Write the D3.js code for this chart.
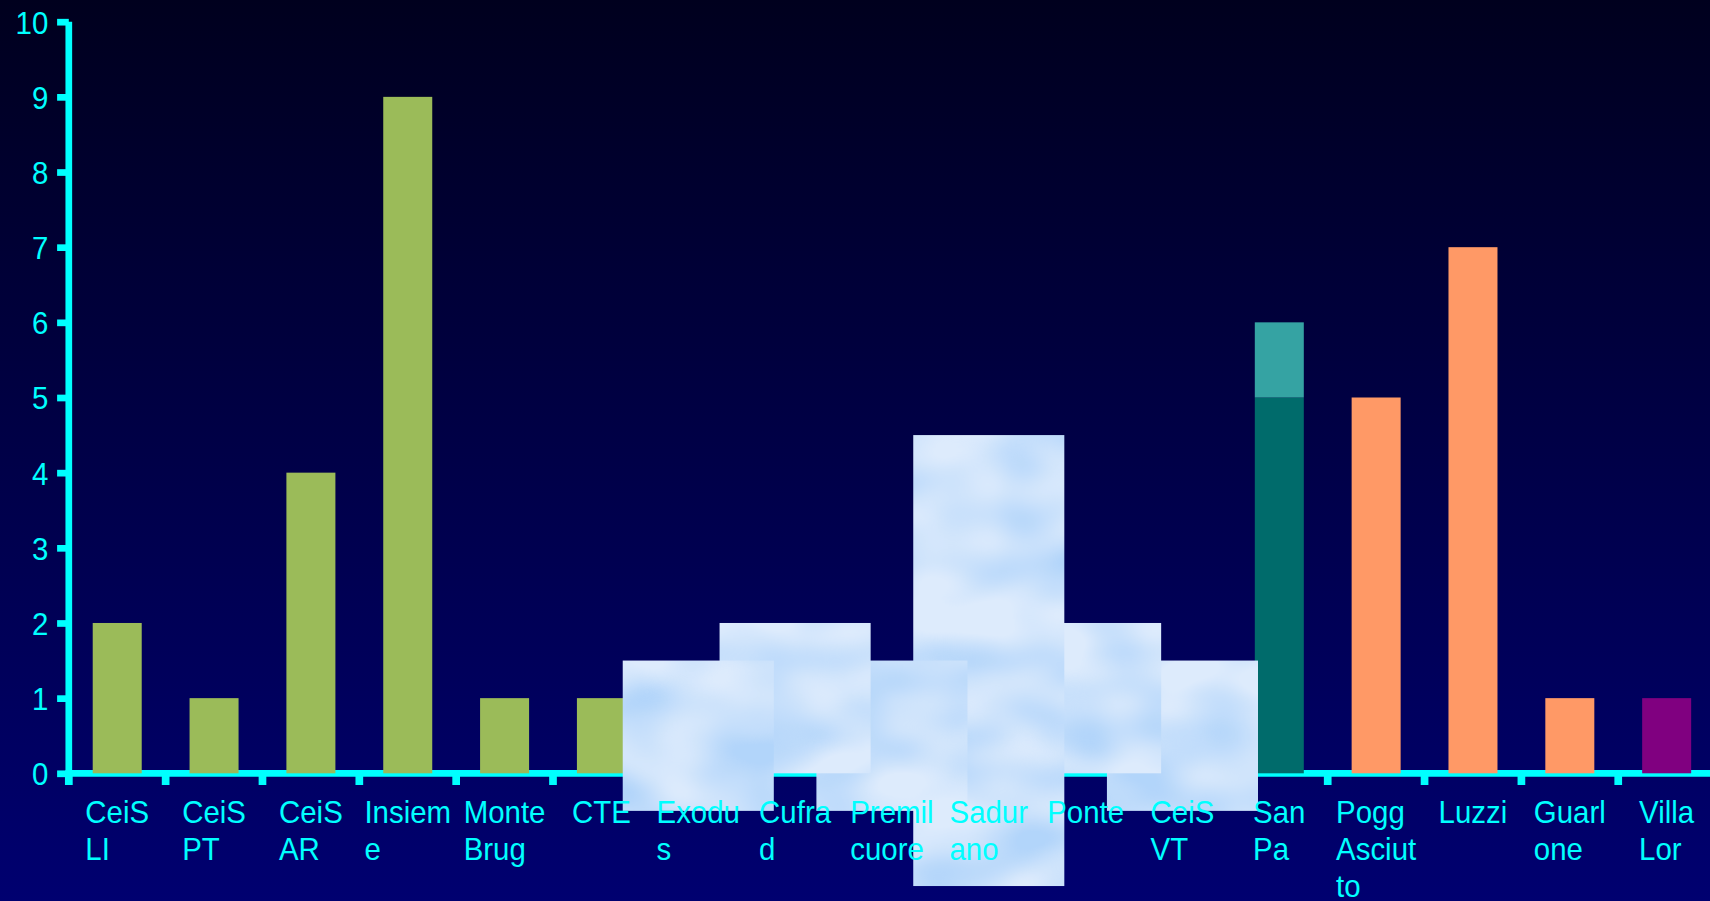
<!DOCTYPE html>
<html>
<head>
<meta charset="utf-8">
<script src="https://cdn.jsdelivr.net/npm/d3@7"></script>
<style>
  html, body { margin: 0; padding: 0; background: #000040; overflow: hidden; }
  svg { display: block; }
  text { font-family: "Liberation Sans", Arial, sans-serif; fill: #00FFFF; }
</style>
</head>
<body>
<svg id="chart" width="1710" height="901"></svg>
<script>
// ---------- DATA ----------
const categories = ["CeiS LI","CeiS PT","CeiS AR","Insieme","Monte Brug","CTE","Exodus","Cufrad",
  "Premilcuore","Saduriano","Ponte","CeiS VT","San Pa","Pogg Asciutto","Luzzi","Guarlone","Villa Lor"];
const categoryLabelLines = [["CeiS","LI"],["CeiS","PT"],["CeiS","AR"],["Insiem","e"],["Monte","Brug"],["CTE"],
  ["Exodu","s"],["Cufra","d"],["Premil","cuore"],["Sadur","ano"],["Ponte"],["CeiS","VT"],["San","Pa"],
  ["Pogg","Asciut","to"],["Luzzi"],["Guarl","one"],["Villa","Lor"]];
const yTickValues = [0,1,2,3,4,5,6,7,8,9,10];

// bar series (value per category, 0 = no bar)
const greenValues     = [2,1,4,9,1,1,0,0,0,0,0,0,0,0,0,0,0];
const tealBaseValues  = [0,0,0,0,0,0,0,0,0,0,0,0,5,0,0,0,0];
const tealTopValues   = [0,0,0,0,0,0,0,0,0,0,0,0,1,0,0,0,0];
const orangeValues    = [0,0,0,0,0,0,0,0,0,0,0,0,0,5,7,1,0];
const purpleValues    = [0,0,0,0,0,0,0,0,0,0,0,0,0,0,0,0,1];

// cloud pictures covering hidden categories (drawn in this order, last on top)
const cloudCategories = ["CeiS VT","Ponte","Saduriano","Premilcuore","Cufrad","Exodus"];
const cloudLow        = [-0.5, 0, -1.5, -0.5, 0, -0.5];
const cloudHigh       = [1.5, 2, 4.5, 1.5, 2, 1.5];

// ---------- LAYOUT / STYLE ----------
const W = 1710, H = 901;
const x0 = 68.8, step = 96.84;
const yZero = 773.3, yTop = 21.7;
const axisW = 6.7, tickLen = 11.7;
const fontSize = 32, sx = 0.92, lineH = 36.7;
const cloudWidthSteps = 1.56;

const svg = d3.select("#chart");
const defs = svg.append("defs");

const bg = defs.append("linearGradient").attr("id","bg").attr("x1",0).attr("y1",0).attr("x2",0).attr("y2",1);
bg.append("stop").attr("offset","0%").attr("stop-color","#00001E");
bg.append("stop").attr("offset","100%").attr("stop-color","#000070");

function cloudFilter(id, seed) {
  const f = defs.append("filter").attr("id", id).attr("filterUnits","userSpaceOnUse")
    .attr("x",0).attr("y",0).attr("width",W).attr("height",H).attr("color-interpolation-filters","sRGB");
  f.append("feTurbulence").attr("type","fractalNoise").attr("baseFrequency","0.010 0.017")
    .attr("numOctaves",2).attr("seed",seed).attr("result","n");
  f.append("feGaussianBlur").attr("in","n").attr("stdDeviation",5).attr("result","nb");
  f.append("feColorMatrix").attr("in","nb").attr("type","matrix")
    .attr("values","0 0 0 0 0.70  0 0 0 0 0.835  0 0 0 0 0.98  2.4 0 0 0 -0.82").attr("result","blot");
  f.append("feFlood").attr("flood-color","#DDEBFC").attr("result","base");
  f.append("feComposite").attr("in","blot").attr("in2","base").attr("operator","over").attr("result","c");
  f.append("feComposite").attr("in","c").attr("in2","SourceGraphic").attr("operator","in");
}
cloudCategories.forEach((c,i) => cloudFilter("cloud" + i, 11 + i*17));

svg.append("rect").attr("width",W).attr("height",H).attr("fill","url(#bg)");

// scales
const xOuter = d3.scaleBand().domain(categories).range([x0, x0 + step*categories.length]).padding(0);
const x = d3.scaleBand().domain(categories).range([x0, x0 + step*categories.length])
  .paddingInner(0.494).paddingOuter(0.247);
const y = d3.scaleLinear().domain([0,10]).range([yZero, yTop]);

// x axis line + ticks at category boundaries
const axG = svg.append("g");
axG.append("line").attr("x1", x0 - axisW/2).attr("x2", W).attr("y1", yZero).attr("y2", yZero)
  .attr("stroke","#00FFFF").attr("stroke-width",axisW);
const boundaries = categories.map(c => xOuter(c)).concat([xOuter.range()[1]]);
axG.selectAll("line.xt").data(boundaries).join("line").attr("class","xt")
  .attr("x1", d => d).attr("x2", d => d).attr("y1", yZero).attr("y2", yZero + tickLen)
  .attr("stroke","#00FFFF").attr("stroke-width", axisW + 1);

// y axis
const yAxis = d3.axisLeft(y).tickValues(yTickValues).tickSize(tickLen).tickSizeOuter(0).tickPadding(0);
const yG = svg.append("g").attr("transform", `translate(${x0},0)`).call(yAxis);
yG.attr("color","#00FFFF");
yG.select(".domain").remove();
yG.append("line").attr("x1",0).attr("x2",0).attr("y1", yTop).attr("y2", yZero + tickLen)
  .attr("stroke","#00FFFF").attr("stroke-width",axisW);
yG.selectAll(".tick line").attr("stroke-width", axisW);
yG.selectAll(".tick text")
  .attr("font-size", fontSize).attr("fill","#00FFFF").attr("font-family","Liberation Sans, Arial, sans-serif")
  .attr("dy", null).attr("x", null).attr("text-anchor","end")
  .attr("transform", `translate(-20.5,${0.716*fontSize/2}) scale(${sx},1)`);

// bars
function drawBars(vals, base, color) {
  svg.append("g").selectAll("rect").data(categories.map((c,i)=>({c, v: vals[i], b: base ? base[i] : 0})).filter(d=>d.v>0))
    .join("rect")
    .attr("x", d => x(d.c)).attr("width", x.bandwidth())
    .attr("y", d => y(d.b + d.v)).attr("height", d => y(d.b) - y(d.b + d.v))
    .attr("fill", color);
}
drawBars(greenValues, null, "#9BBB59");
drawBars(tealBaseValues, null, "#006B6B");
drawBars(tealTopValues, tealBaseValues, "#35A3A3");
drawBars(orangeValues, null, "#FF9966");
drawBars(purpleValues, null, "#800080");

// clouds
const cw = step * cloudWidthSteps;
svg.append("g").selectAll("rect").data(cloudCategories.map((c,i)=>({c, i, lo: cloudLow[i], hi: cloudHigh[i]})))
  .join("rect")
  .attr("x", d => xOuter(d.c) + step/2 - cw/2).attr("width", cw)
  .attr("y", d => y(d.hi)).attr("height", d => y(d.lo) - y(d.hi))
  .attr("fill","#DDEBFC").attr("filter", d => `url(#cloud${d.i})`);

// category labels
const lab = svg.append("g");
categories.forEach((c,i) => {
  const g = lab.append("g");
  const texts = categoryLabelLines[i].map((t,k) =>
    g.append("text").attr("x",0).attr("y", k*lineH).attr("font-size", fontSize).text(t));
  const mw = d3.max(texts, t => t.node().getComputedTextLength()) * sx;
  const cx = xOuter(c) + step/2;
  g.attr("transform", `translate(${cx - mw/2},823.3) scale(${sx},1)`);
});
</script>
</body>
</html>
